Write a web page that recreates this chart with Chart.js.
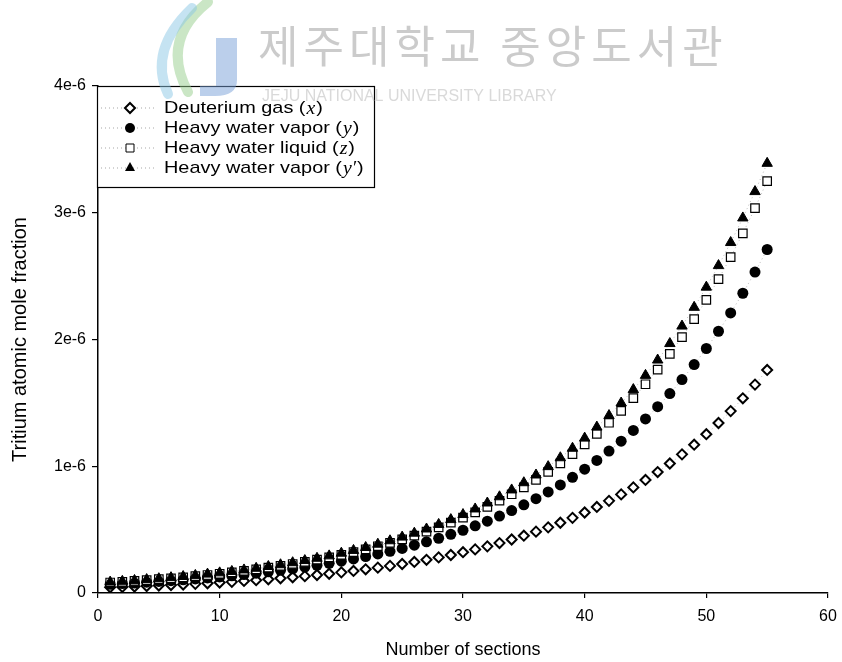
<!DOCTYPE html>
<html>
<head>
<meta charset="utf-8">
<title>Tritium profile</title>
<script src="https://cdn.jsdelivr.net/npm/chart.js@4.4.1/dist/chart.umd.min.js"></script>
<style>
  html, body { margin: 0; padding: 0; background: #fff; }
  #wrap { width: 842px; height: 662px; }
</style>
</head>
<body>
<div id="wrap"><canvas id="myChart" width="842" height="662"></canvas></div>
<script>
// section number along the column
var sections = [1, 2, 3, 4, 5, 6, 7, 8, 9, 10, 11, 12, 13, 14, 15, 16, 17, 18, 19, 20,
  21, 22, 23, 24, 25, 26, 27, 28, 29, 30, 31, 32, 33, 34, 35, 36, 37, 38, 39, 40,
  41, 42, 43, 44, 45, 46, 47, 48, 49, 50, 51, 52, 53, 54, 55];

// tritium atomic mole fraction, in units of 1e-6
var gasX = [0.045, 0.048, 0.051, 0.055, 0.059, 0.063, 0.067, 0.072, 0.077, 0.083,
  0.088, 0.095, 0.101, 0.108, 0.116, 0.124, 0.133, 0.142, 0.152, 0.163,
  0.174, 0.187, 0.200, 0.214, 0.229, 0.245, 0.262, 0.281, 0.300, 0.322,
  0.344, 0.368, 0.394, 0.422, 0.452, 0.484, 0.518, 0.554, 0.593, 0.635,
  0.679, 0.727, 0.778, 0.833, 0.892, 0.954, 1.022, 1.094, 1.170, 1.253,
  1.341, 1.435, 1.536, 1.644, 1.760];
var vaporY = [0.069, 0.074, 0.079, 0.085, 0.091, 0.097, 0.104, 0.111, 0.119, 0.127,
  0.136, 0.146, 0.156, 0.167, 0.179, 0.191, 0.205, 0.219, 0.234, 0.251,
  0.269, 0.287, 0.308, 0.329, 0.352, 0.377, 0.404, 0.432, 0.463, 0.495,
  0.530, 0.567, 0.607, 0.650, 0.696, 0.744, 0.797, 0.853, 0.913, 0.977,
  1.046, 1.120, 1.198, 1.283, 1.373, 1.470, 1.573, 1.684, 1.802, 1.929,
  2.065, 2.210, 2.365, 2.532, 2.710];
var liquidZ = [0.083, 0.088, 0.095, 0.101, 0.109, 0.116, 0.124, 0.133, 0.142, 0.152,
  0.163, 0.175, 0.187, 0.200, 0.214, 0.229, 0.245, 0.263, 0.281, 0.301,
  0.322, 0.345, 0.369, 0.395, 0.423, 0.452, 0.484, 0.518, 0.555, 0.594,
  0.636, 0.680, 0.728, 0.779, 0.834, 0.893, 0.956, 1.023, 1.095, 1.172,
  1.255, 1.343, 1.437, 1.538, 1.647, 1.763, 1.887, 2.019, 2.161, 2.313,
  2.476, 2.650, 2.837, 3.037, 3.250];
var vaporY2 = [0.086, 0.092, 0.099, 0.106, 0.113, 0.121, 0.130, 0.139, 0.149, 0.159,
  0.170, 0.182, 0.195, 0.209, 0.223, 0.239, 0.256, 0.274, 0.293, 0.314,
  0.336, 0.359, 0.385, 0.412, 0.441, 0.472, 0.505, 0.541, 0.579, 0.619,
  0.663, 0.710, 0.759, 0.813, 0.870, 0.931, 0.997, 1.067, 1.142, 1.222,
  1.309, 1.400, 1.499, 1.605, 1.717, 1.838, 1.968, 2.106, 2.254, 2.413,
  2.583, 2.765, 2.959, 3.167, 3.390];

var yTickLabels = ["0", "1e-6", "2e-6", "3e-6", "4e-6"];

var seriesNames = ["Deuterium gas", "Heavy water vapor", "Heavy water liquid", "Heavy water vapor"];
var seriesVars = ["x", "y", "z", "y\u2032"];

var SANS = '"Liberation Sans", Arial, sans-serif';
var SERIF = '"Liberation Serif", "Times New Roman", serif';

function pts(vals) {
  return sections.map(function (s, i) { return { x: s, y: vals[i] }; });
}

var dotted = {
  showLine: true,
  borderColor: "rgba(0,0,0,0.28)",
  borderWidth: 1,
  borderDash: [1, 3],
  pointBorderColor: "#000"
};

var datasets = [
  Object.assign({}, dotted, {
    label: seriesNames[0], data: pts(gasX), order: 4,
    pointStyle: "rectRot", pointRadius: 5, pointBorderWidth: 2, pointBackgroundColor: "#fff"
  }),
  Object.assign({}, dotted, {
    label: seriesNames[1], data: pts(vaporY), order: 3,
    pointStyle: "circle", pointRadius: 5.5, pointBorderWidth: 0, pointBackgroundColor: "#000"
  }),
  Object.assign({}, dotted, {
    label: seriesNames[2], data: pts(liquidZ), order: 2,
    pointStyle: "rect", pointRadius: 6, pointBorderWidth: 1.2, pointBackgroundColor: "#fff"
  }),
  Object.assign({}, dotted, {
    label: seriesNames[3], data: pts(vaporY2), order: 1,
    pointStyle: "triangle", pointRadius: 6, pointBorderWidth: 1, pointBackgroundColor: "#000"
  })
];

// draw one marker the same way the datasets look
function marker(ctx, style, x, y) {
  ctx.save();
  ctx.strokeStyle = "#000";
  ctx.beginPath();
  if (style == "rectRot") {
    ctx.moveTo(x, y - 5); ctx.lineTo(x + 5, y); ctx.lineTo(x, y + 5); ctx.lineTo(x - 5, y);
    ctx.closePath();
    ctx.fillStyle = "#fff"; ctx.fill(); ctx.lineWidth = 2; ctx.stroke();
  } else if (style == "circle") {
    ctx.arc(x, y, 5, 0, Math.PI * 2);
    ctx.fillStyle = "#000"; ctx.fill();
  } else if (style == "rect") {
    ctx.rect(x - 4, y - 4, 8, 8);
    ctx.fillStyle = "#fff"; ctx.fill(); ctx.lineWidth = 1; ctx.stroke();
  } else {
    ctx.moveTo(x, y - 6); ctx.lineTo(x + 5, y + 3); ctx.lineTo(x - 5, y + 3);
    ctx.closePath();
    ctx.fillStyle = "#000"; ctx.fill();
  }
  ctx.restore();
}

// text drawn a little wider than the font, as in the legend
function wideText(ctx, str, x, y, font, sx) {
  ctx.font = font;
  ctx.save();
  ctx.translate(x, y);
  ctx.scale(sx, 1);
  ctx.fillText(str, 0, 0);
  ctx.restore();
  return ctx.measureText(str).width * sx;
}

// boxed legend in the upper left corner of the plot
var boxLegend = {
  id: "boxLegend",
  afterDatasetsDraw: function (chart) {
    var ctx = chart.ctx;
    var left = chart.chartArea.left - 1, top = chart.chartArea.top;
    var w = 277, h = 101;
    ctx.save();
    ctx.fillStyle = "#fff";
    ctx.fillRect(left, top, w, h);
    ctx.strokeStyle = "#000";
    ctx.lineWidth = 1.2;
    ctx.strokeRect(left + 0.5, top + 0.5, w, h);
    chart.data.datasets.forEach(function (ds, i) {
      var y = top + 22 + i * 20;
      ctx.strokeStyle = "rgba(0,0,0,0.35)";
      ctx.lineWidth = 1;
      ctx.setLineDash([1, 3]);
      ctx.beginPath();
      ctx.moveTo(left + 4, y); ctx.lineTo(left + 60, y);
      ctx.stroke();
      ctx.setLineDash([]);
      marker(ctx, ds.pointStyle, left + 33, y);

      ctx.fillStyle = "#000";
      ctx.textBaseline = "middle";
      ctx.textAlign = "left";
      var tx = left + 67;
      tx += wideText(ctx, seriesNames[i] + " (", tx, y, "17px " + SANS, 1.17);
      tx += wideText(ctx, seriesVars[i], tx + 1, y + 1, "italic 18px " + SERIF, 1.1) + 2;
      wideText(ctx, ")", tx, y, "17px " + SANS, 1.17);
    });
    ctx.restore();
  }
};

// library stamp across the top of the page
var stamp = {
  id: "stamp",
  afterDraw: function (chart) {
    var ctx = chart.ctx;
    ctx.save();
    // logo
    ctx.lineCap = "round";
    ctx.lineWidth = 10;
    ctx.strokeStyle = "rgba(150,205,140,0.5)";
    ctx.beginPath();
    ctx.moveTo(208, 2); ctx.quadraticCurveTo(160, 40, 188, 92);
    ctx.stroke();
    ctx.strokeStyle = "rgba(140,200,230,0.5)";
    ctx.beginPath();
    ctx.moveTo(192, 8); ctx.quadraticCurveTo(148, 50, 168, 94);
    ctx.stroke();
    ctx.fillStyle = "rgba(120,160,215,0.5)";
    ctx.beginPath();
    ctx.moveTo(216, 38); ctx.lineTo(237, 38); ctx.lineTo(237, 80);
    ctx.quadraticCurveTo(237, 96, 215, 96);
    ctx.lineTo(200, 96); ctx.lineTo(200, 86); ctx.lineTo(216, 86);
    ctx.closePath();
    ctx.fill();
    // text
    ctx.textBaseline = "alphabetic";
    ctx.textAlign = "left";
    ctx.fillStyle = "rgba(175,175,175,0.65)";
    ctx.font = '44px "Noto Sans CJK KR", sans-serif';
    ctx.letterSpacing = "5px";
    ctx.fillText("제주대학교 중앙도서관", 258, 63);
    ctx.fillStyle = "rgba(185,185,185,0.55)";
    ctx.font = "16px " + SANS;
    ctx.letterSpacing = "0px";
    ctx.fillText("JEJU NATIONAL UNIVERSITY LIBRARY", 262, 101);
    ctx.restore();
  }
};

new Chart("myChart", {
  type: "scatter",
  data: { datasets: datasets },
  plugins: [boxLegend, stamp],
  options: {
    responsive: false,
    animation: false,
    devicePixelRatio: 1,
    layout: { padding: { top: 86, right: 14, bottom: 0, left: 0 } },
    plugins: {
      legend: { display: false },
      tooltip: { enabled: false }
    },
    scales: {
      x: {
        type: "linear",
        min: 0, max: 60,
        afterFit: function (scale) {
          scale.height = 69;
          scale.paddingLeft = 0;
          scale.paddingRight = 0;
        },
        ticks: { stepSize: 10, color: "#000", padding: 9, font: { family: SANS, size: 16 } },
        grid: { drawOnChartArea: false, drawTicks: true, tickLength: 5, color: "#000", lineWidth: 1.2 },
        border: { color: "#000", width: 1.5 },
        title: {
          display: true, text: "Number of sections", color: "#000",
          font: { family: SANS, size: 18 }, padding: { top: 0, bottom: 1 }
        }
      },
      y: {
        type: "linear",
        min: 0, max: 4,
        afterFit: function (scale) {
          scale.width = 98;
          scale.paddingTop = 0;
          scale.paddingBottom = 0;
        },
        ticks: {
          stepSize: 1, color: "#000", padding: 6, font: { family: SANS, size: 16 },
          callback: function (v) { return yTickLabels[v]; }
        },
        grid: { drawOnChartArea: false, drawTicks: true, tickLength: 6, color: "#000", lineWidth: 1.2 },
        border: { color: "#000", width: 1.5 },
        title: {
          display: true, text: "Tritium atomic mole fraction", color: "#000",
          font: { family: SANS, size: 20 }, padding: { top: 8, bottom: 0 }
        }
      }
    }
  }
});
</script>
</body>
</html>
